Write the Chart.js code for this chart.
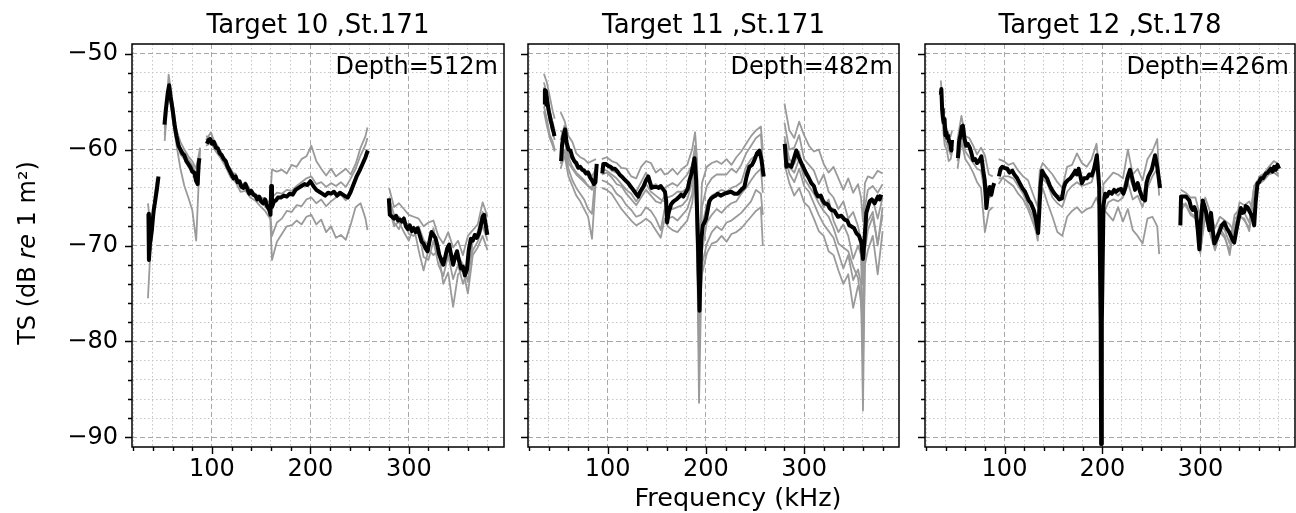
<!DOCTYPE html>
<html>
<head>
<meta charset="utf-8">
<script src="https://cdn.jsdelivr.net/npm/chart.js@4.4.0/dist/chart.umd.min.js"></script>
<style>
  html, body { margin: 0; padding: 0; background: #fff; }
  #wrap { position: relative; width: 1296px; height: 513px; overflow: hidden; }
  #wrap canvas { position: absolute; left: 0; top: 0; }
</style>
</head>
<body>
<div id="wrap">
  <canvas id="c10" width="1296" height="513"></canvas>
  <canvas id="c11" width="1296" height="513"></canvas>
  <canvas id="c12" width="1296" height="513"></canvas>
</div>
<script>
// axes
const xTicks = [20, 40, 60, 80, 100, 120, 140, 160, 180, 200, 220, 240, 260, 280, 300, 320, 340, 360, 380];
const xLabels = [100, 200, 300];
const yTicks = [-90, -88, -86, -84, -82, -80, -78, -76, -74, -72, -70, -68, -66, -64, -62, -60, -58, -56, -54, -52, -50];
const yLabels = [-90, -80, -70, -60, -50];

// Target 10 - mean (black)
const freqMean10 = [35.5, 36, 37, 38, 39, 40, 41, 42, 43, 44, 45, 45.7, null,
  51.8, 53, 55, 56.5, 58, 60, 62, 64, 66, 68, 70, 72, 74, 76, 78, 80, 82, 84, 85.5, 86.5, 87.3, null,
  94.9, 96.5, 98.3, 100, 102, 104, 106, 108, 110, 112, 114, 116, 118, 120, 122, 124, 126, 128, 130, 132, 134, 136, 138, 140, 142, 144, 146, 148, 150, 152, 154, 156, 158, 159.5, 160.2,
  161, 163, 165, 167, 170, 173, 176, 179, 182, 185, 188, 191, 194, 197, 200, 203, 206, 209, 212, 215, 218, 221, 224, 227, 230, 233, 236, 238, 241, 244, 247, 250, 253, 256, 258.3, null,
  279.7, 280.7, 283, 285, 287, 289, 291, 293, 295, 297, 299, 301, 303, 305, 307, 309, 311, 313, 315, 317, 319, 321, 323, 325, 327, 329, 331, 333, 335, 337, 339, 341, 343, 345, 347, 349, 351, 353, 355, 357, 359, 361, 363, 365, 367, 369, 371, 373, 375, 376.5, 378, 379.8];
const tsMean10 = [-66.7, -71.5, -69.8, -69.2, -68.4, -67.2, -66.2, -65.6, -64.9, -64.2, -63.4, -62.8, null,
  -57.4, -56.0, -54.2, -53.3, -54.5, -55.8, -57.4, -58.6, -59.6, -60.0, -60.4, -60.6, -61.2, -61.5, -61.8, -62.3, -62.4, -63.3, -63.6, -61.5, -60.9, null,
  -59.4, -59.0, -58.9, -59.4, -59.2, -59.8, -59.9, -60.4, -60.6, -61.0, -61.2, -61.8, -62.2, -62.6, -63.0, -62.8, -63.4, -63.3, -63.9, -64.0, -63.6, -64.1, -64.6, -64.3, -64.7, -64.8, -65.2, -64.9, -65.4, -65.6, -65.2, -65.9, -66.2, -66.8, -63.8,
  -66.0, -65.4, -65.3, -65.0, -65.0, -64.8, -64.9, -64.6, -64.7, -64.2, -64.0, -63.8, -63.6, -63.7, -63.3, -63.8, -64.2, -64.4, -64.6, -64.8, -64.5, -64.6, -64.4, -64.8, -64.5, -64.7, -64.9, -65.0, -64.4, -63.6, -62.8, -62.2, -61.5, -60.8, -60.1, null,
  -65.1, -66.8, -67.0, -67.2, -66.9, -67.4, -67.3, -67.5, -67.2, -68.0, -68.3, -67.9, -68.5, -68.2, -68.6, -68.2, -68.9, -69.6, -69.8, -70.3, -70.6, -69.6, -68.6, -68.9, -69.2, -70.0, -71.0, -71.5, -72.0, -71.2, -70.3, -69.9, -71.0, -72.0, -71.2, -70.6, -71.6, -72.4, -72.2, -73.1, -72.5, -70.4, -69.3, -69.5, -68.9, -69.2, -68.8, -68.0, -67.0, -66.8, -67.8, -68.9];

// Target 10 - single pings (grey)
const freqPing10 = [35, 38, 41, 44, null,
  52, 56, 60, 64, 68, 72, 76, 80, 84, 88, null,
  94, 99, 104, 109, 114, 119, 124, 129, 134, 139, 144, 149, 154, 159,
  161, 166, 171, 176, 181, 186, 191, 196, 201, 206, 211, 216, 221, 226, 231, 236, 241, 246, 251, 256, 258, null,
  280, 285, 290, 295, 300, 305, 310, 315, 320, 325, 330, 335, 340, 345, 350, 355, 360, 365, 370, 375, 380];
const tsPing10a = [-65.6, -68.5, -65.5, -63.0, null,
  -58.5, -52.2, -55.0, -58.0, -59.2, -60.0, -60.7, -61.2, -62.0, -59.8, null,
  -59.0, -58.2, -59.6, -60.4, -61.0, -62.4, -62.5, -63.8, -63.4, -64.2, -64.6, -65.0, -65.1, -65.6,
  -62.1, -62.3, -62.1, -62.5, -61.6, -61.8, -61.0, -60.7, -59.6, -61.2, -62.0, -62.7, -62.0, -62.8, -62.4, -62.0, -62.6, -61.5, -59.8, -58.6, -57.7, null,
  -64.0, -66.0, -65.6, -66.2, -66.8, -67.0, -67.2, -68.0, -67.6, -67.4, -69.0, -69.8, -68.6, -70.2, -69.5, -71.0, -69.0, -68.4, -67.8, -65.5, -67.0];
const tsPing10b = [-75.5, -69.5, -66.8, -63.8, null,
  -59.1, -53.5, -56.8, -59.5, -62.0, -63.8, -65.0, -66.3, -69.5, -60.0, null,
  -59.6, -59.3, -60.2, -60.9, -61.8, -62.9, -63.4, -64.4, -64.3, -65.0, -65.3, -65.9, -66.4, -67.2,
  -65.0, -64.5, -64.6, -64.2, -64.3, -63.8, -63.4, -63.0, -62.8, -63.6, -63.4, -63.9, -63.5, -63.8, -63.4, -63.9, -63.0, -62.0, -60.6, -59.5, -58.8, null,
  -65.5, -67.6, -68.3, -67.0, -68.8, -69.0, -68.4, -71.2, -71.5, -69.5, -72.0, -73.2, -71.0, -73.5, -72.0, -74.0, -72.5, -70.5, -69.6, -68.0, -69.5];
const tsPing10c = [-67.5, -70.5, -66.0, -64.0, null,
  -57.8, -53.8, -56.5, -58.6, -60.5, -61.0, -61.8, -62.2, -63.3, -61.2, null,
  -58.6, -58.8, -59.3, -60.2, -61.3, -62.0, -63.0, -63.6, -64.0, -64.4, -65.0, -65.2, -65.7, -66.3,
  -69.0, -67.6, -67.2, -66.4, -66.5, -65.8, -65.9, -65.2, -65.0, -65.6, -65.2, -65.9, -65.4, -65.0, -64.7, -65.3, -64.1, -63.0, -62.0, -61.0, -60.5, null,
  -66.0, -68.0, -67.5, -68.6, -69.5, -68.0, -70.5, -72.6, -70.4, -71.0, -70.5, -74.0, -72.8, -76.4, -73.0, -72.5, -75.0, -71.0, -70.2, -69.0, -70.5];
const tsPing10d = [-66.5, -69.5, -66.2, -63.5, null,
  -57.0, -53.0, -55.6, -58.2, -59.8, -60.4, -61.0, -61.6, -62.6, -61.0, null,
  -59.2, -59.0, -59.5, -60.6, -61.5, -62.2, -63.2, -63.9, -63.8, -64.6, -64.9, -65.5, -65.9, -66.6,
  -71.5, -69.6, -68.8, -68.0, -67.9, -67.4, -67.8, -67.0, -66.8, -67.8, -67.3, -68.6, -68.0, -69.2, -68.9, -69.4, -67.8, -66.0, -65.6, -67.2, -68.4, null,
  -65.0, -66.8, -67.0, -67.6, -67.8, -68.5, -68.0, -69.4, -70.0, -68.2, -70.8, -71.5, -70.2, -71.8, -71.0, -72.0, -73.8, -69.5, -68.6, -66.5, -68.0];

// Target 11 - mean (black)
const freqMean11 = [35.5, 36, 37, 38, 39, 40, 41, 42, 43, 44, 45, 45.7, null,
  52.5, 53.5, 55, 56.6, 58, 60, 62, 64, 66, 68, 70, 72, 74, 76, 78, 80, 82, 84, 86, 87.5, 88.8, null,
  94.5, 95.5, 98, 100.6, 103, 105, 107.4, 110, 112, 114.2, 117, 120.9, 123, 126, 128, 131.1, 133, 136.2, 139, 141.3, 143, 144.7, 147, 149.8, 152, 154, 156, 158.3,
  159.5, 160.5, 162, 164.6, 167, 170, 172, 174.8, 177, 179.9, 181.5, 183.3, 185, 186.7, 188.4, 190.1, 191.8, 193.5, 195.2, 196.9, 198.5, 200.2, 202, 203.5, 205.3, 208, 210, 212.1, 215, 218.9, 222, 225.7, 229, 232.5, 236, 239.2, 241.5, 244.3, 247, 249.4, 252, 254.5, 256.5, 258.9, null,
  280.3, 282, 284, 287, 289.5, 292.1, 294.5, 297.2, 300, 302.3, 305, 307.4, 310, 312, 314.2, 317, 319, 321, 324, 326, 327.8, 331, 334.5, 338, 341.3, 344, 346, 348.1, 351, 353.2, 356, 358.3, 360, 361.5, 363.4, 366.8, 369, 371.8, 375.2, 377, 378.6];
const tsMean11 = [-55.3, -53.8, -53.9, -54.6, -55.4, -56.0, -56.5, -57.0, -57.4, -57.9, -58.2, -58.6, null,
  -61.2, -59.5, -58.5, -57.9, -59.2, -60.0, -60.1, -60.8, -61.2, -61.4, -61.9, -61.8, -62.1, -62.2, -62.5, -62.4, -62.9, -63.2, -63.6, -63.4, -61.5, null,
  -62.5, -61.5, -61.5, -61.7, -61.8, -62.0, -62.0, -62.3, -62.6, -62.8, -63.1, -63.5, -63.8, -64.2, -64.5, -64.9, -64.4, -63.9, -63.2, -62.8, -63.4, -64.0, -63.9, -63.9, -64.0, -63.8, -64.1, -64.4,
  -65.3, -67.6, -66.6, -65.7, -65.4, -65.2, -65.0, -64.7, -64.9, -64.4, -64.1, -63.2, -62.6, -61.8, -60.9, -63.2, -69.2, -76.8, -69.5, -67.9, -67.6, -67.2, -66.2, -65.4, -65.1, -64.9, -64.8, -64.6, -64.8, -64.6, -64.5, -64.4, -64.6, -64.6, -64.2, -63.9, -62.8, -61.8, -61.6, -61.1, -60.4, -60.1, -61.0, -62.8, null,
  -59.4, -61.8, -61.6, -61.8, -61.0, -60.1, -60.8, -61.4, -62.0, -62.5, -63.0, -63.5, -63.8, -64.5, -64.9, -64.8, -65.3, -65.6, -65.7, -66.1, -66.3, -66.4, -67.0, -66.9, -67.3, -67.4, -67.9, -68.0, -68.2, -68.7, -69.0, -69.7, -71.4, -69.5, -66.6, -65.4, -65.2, -65.6, -64.9, -65.2, -64.7];

// Target 11 - single pings (grey)
const freqPing11 = [35, 38, 41, 44, 46, null,
  52, 56, 60, 64, 68, 72, 76, 80, 84, 88, null,
  94, 99, 104, 109, 114, 119, 124, 129, 134, 139, 144, 149, 154, 158,
  161, 166, 171, 176, 181, 186, 189, 191, 193, 196, 201, 206, 211, 216, 221, 226, 231, 236, 241, 246, 251, 256, 258, null,
  280, 285, 290, 295, 300, 305, 310, 315, 320, 325, 330, 335, 340, 345, 350, 355, 358, 360, 362, 365, 370, 375, 380];
const tsPing11a = [-52.1, -53.0, -54.5, -56.0, -56.8, null,
  -56.1, -57.0, -58.6, -59.2, -60.4, -60.8, -61.0, -61.4, -61.2, -61.0, null,
  -61.0, -60.8, -61.2, -61.4, -61.9, -62.0, -62.8, -63.0, -61.8, -61.2, -61.4, -62.4, -62.0, -62.6,
  -62.5, -62.0, -62.6, -62.0, -61.6, -60.0, -58.2, -61.0, -72.0, -63.5, -61.8, -61.4, -61.2, -61.5, -61.0, -61.6, -60.8, -60.2, -59.4, -58.6, -58.0, -57.6, -60.0, null,
  -55.2, -58.0, -58.8, -57.1, -58.5, -59.6, -60.2, -60.0, -61.5, -62.4, -61.8, -63.0, -64.2, -63.0, -64.5, -63.6, -65.0, -67.5, -63.5, -62.8, -63.0, -62.2, -62.5];
const tsPing11b = [-53.0, -54.2, -56.0, -57.2, -58.0, null,
  -59.0, -57.5, -60.6, -61.0, -61.8, -62.0, -62.4, -62.2, -62.8, -62.0, null,
  -61.8, -61.6, -62.2, -62.4, -62.8, -63.2, -63.8, -64.4, -63.4, -62.4, -63.8, -63.6, -64.0, -64.0,
  -63.8, -63.5, -63.8, -63.2, -62.6, -61.6, -59.6, -65.0, -78.0, -66.0, -63.8, -63.0, -62.6, -62.6, -62.6, -62.0, -62.4, -61.6, -60.4, -59.6, -58.8, -58.4, -61.5, null,
  -57.2, -60.0, -59.8, -58.5, -61.0, -61.6, -62.2, -63.6, -62.6, -64.4, -65.0, -66.2, -65.4, -67.2, -66.5, -68.0, -69.5, -74.0, -66.0, -64.2, -63.8, -64.5, -63.6];
const tsPing11c = [-54.5, -55.5, -57.0, -58.2, -59.0, null,
  -60.5, -59.0, -61.4, -62.0, -62.6, -63.0, -63.4, -63.8, -64.2, -62.5, null,
  -62.6, -62.4, -62.9, -63.6, -63.8, -64.6, -65.2, -65.8, -65.0, -64.2, -64.8, -65.4, -65.6, -64.8,
  -65.0, -64.8, -64.4, -64.4, -64.0, -62.4, -60.4, -67.0, -82.0, -68.0, -65.8, -64.8, -64.5, -64.2, -64.4, -64.0, -63.8, -63.4, -61.8, -61.0, -60.6, -60.0, -62.8, null,
  -58.6, -61.0, -61.5, -60.2, -62.5, -63.0, -63.8, -64.8, -66.0, -65.2, -67.4, -68.6, -67.8, -69.0, -71.4, -70.0, -71.0, -80.0, -67.8, -66.0, -65.2, -67.2, -65.0];
const tsPing11d = [-55.5, -56.8, -58.5, -59.2, -60.0, null,
  -61.5, -60.0, -62.0, -63.2, -64.0, -64.6, -65.2, -66.2, -66.7, -62.0, null,
  -63.2, -63.4, -63.8, -64.6, -65.0, -65.8, -66.3, -67.0, -66.8, -66.0, -66.4, -67.2, -68.4, -66.2,
  -66.2, -66.2, -66.0, -65.8, -65.2, -63.4, -61.2, -69.0, -86.4, -70.6, -67.6, -66.8, -66.2, -66.6, -66.0, -65.6, -65.4, -64.6, -64.0, -63.2, -62.5, -62.0, -64.5, null,
  -60.2, -62.5, -63.4, -62.0, -63.8, -64.4, -65.6, -66.8, -67.8, -68.5, -69.2, -70.8, -72.4, -71.0, -73.6, -72.5, -74.0, -87.2, -70.5, -68.4, -67.0, -69.8, -66.8];
const tsPing11e = [-56.0, -57.5, -58.8, -59.6, -60.2, null,
  -62.0, -60.6, -62.8, -63.8, -64.8, -65.4, -66.2, -67.0, -69.3, -63.0, null,
  -64.0, -64.2, -64.6, -65.4, -66.2, -66.8, -67.4, -67.9, -67.6, -67.2, -67.6, -68.4, -69.2, -67.2,
  -67.2, -67.0, -67.4, -66.8, -66.2, -64.6, -62.0, -70.0, -80.0, -72.0, -69.8, -68.6, -68.0, -68.4, -67.6, -67.4, -67.0, -66.6, -66.0, -65.4, -64.2, -64.6, -66.8, null,
  -61.5, -63.5, -64.8, -64.0, -65.5, -66.0, -67.2, -68.5, -69.0, -70.6, -71.0, -72.6, -74.0, -73.0, -76.5, -74.2, -75.0, -82.0, -72.0, -70.5, -69.0, -73.0, -68.5];
const tsPing11f = [-53.5, -55.0, -56.8, -57.6, -58.5, null,
  -58.0, -58.5, -60.8, -61.8, -62.4, -62.8, -63.2, -63.8, -64.0, -61.8, null,
  -62.0, -62.2, -62.6, -63.0, -63.6, -64.2, -64.6, -65.4, -64.6, -63.6, -64.4, -64.8, -65.2, -65.4,
  -68.0, -68.4, -68.6, -68.0, -67.4, -65.6, -63.0, -71.5, -76.0, -73.0, -70.8, -69.8, -69.6, -69.0, -69.6, -68.8, -68.6, -68.2, -67.6, -67.0, -66.4, -66.0, -70.0, null,
  -59.0, -61.8, -62.4, -61.0, -63.0, -63.8, -64.6, -65.6, -66.4, -67.0, -68.2, -69.8, -70.2, -70.6, -72.2, -73.4, -76.0, -78.0, -69.0, -67.5, -66.5, -70.0, -66.0];

// Target 12 - mean (black)
const freqMean12 = [35, 35.5, 36.3, 37, 37.9, 38.8, 39.6, 40.5, 41.5, 42.5, 43.5, 44.5, 45.7, 46.4, null,
  52.4, 53.5, 55, 56.5, 57.5, 59, 60.8, 62.5, 64.5, 66, 68, 70, 72, 73, 75, 76.4, 78, 79.8, 81.5, 83, 84.9, 86.6, 88, 89.4, null,
  94.3, 96, 97.7, 100, 102.8, 105, 107.9, 110, 113, 115.5, 118.1, 121, 124.8, 127, 129.9, 132, 134.3, 135.5, 136.7, 138.4,
  140.5, 143.4, 146, 148.5, 151, 153.6, 156, 158.7, 160.5, 162.1, 164.5, 167.2, 170, 172.3, 174, 175.7, 177.5, 179, 181.5, 184.1,
  186.5, 189.2, 191.5, 194.3, 196.7, 198.2, 198.7, 199.4, 201.1, 202.8, 204.5, 207, 209.6, 212, 214, 216.3, 219, 221.4, 223.5, 225.5,
  228.2, 230.5, 233.3, 236, 238.5, 241, 243.6, 245, 247, 250.4, 252, 253.8, 256, 258.9, null,
  279.6, 280.3, 282.5, 285.4, 287, 288.8, 290.5, 292.2, 294, 295.6, 297.5, 299, 300.5, 302.4, 304, 305.8, 307.5, 309.2, 310.9, 312.5,
  314.3, 317, 319.4, 322, 324.5, 327, 329.5, 332, 334.6, 336.5, 338, 340, 341.4, 343, 344.8, 346.5, 348.2, 350, 351.6, 353.5,
  355, 356.5, 358.4, 360, 361.8, 364, 366.9, 369, 372, 373.8, 375.4, 377, 378.8, 380.5];
const tsMean12 = [-54.3, -53.7, -55.8, -56.6, -57.2, -56.8, -58.5, -58.2, -58.8, -58.6, -59.2, -59.3, -60.1, -59.0, null,
  -60.9, -59.2, -58.5, -57.6, -57.5, -58.8, -59.6, -59.4, -59.8, -60.3, -61.1, -61.0, -61.4, -61.3, -61.0, -60.7, -62.0, -63.2, -66.1, -64.6, -63.9, -64.7, -64.0, -63.5, null,
  -62.8, -62.0, -61.8, -61.9, -62.0, -62.4, -62.2, -62.6, -63.0, -63.5, -64.0, -64.4, -65.3, -65.6, -66.3, -67.2, -68.7, -66.5, -63.9, -62.2,
  -62.6, -63.0, -63.7, -64.2, -64.6, -64.9, -65.2, -65.1, -64.0, -63.5, -63.2, -63.0, -62.6, -62.2, -62.6, -62.0, -62.8, -63.5, -63.0, -63.0,
  -62.6, -62.7, -62.0, -60.6, -63.9, -78.0, -90.7, -78.0, -65.8, -64.6, -64.9, -64.4, -64.6, -64.2, -64.4, -64.2, -64.1, -64.6, -64.0, -63.0,
  -62.1, -63.0, -64.2, -63.5, -64.4, -65.1, -65.3, -63.5, -62.8, -62.1, -61.4, -60.6, -61.8, -64.0, null,
  -67.9, -64.9, -64.9, -64.9, -65.1, -65.3, -66.0, -66.3, -66.0, -66.5, -68.5, -70.4, -67.5, -65.3, -65.8, -66.5, -67.5, -68.4, -66.6, -68.2,
  -69.8, -69.2, -68.6, -67.9, -67.6, -68.2, -68.6, -69.2, -69.7, -68.6, -67.8, -66.8, -66.1, -66.6, -66.5, -65.9, -66.0, -66.4, -66.7, -67.2,
  -67.9, -65.5, -63.5, -63.4, -63.0, -63.0, -62.5, -62.4, -62.0, -62.3, -61.8, -62.1, -61.6, -62.0];

// Target 12 - single pings (grey)
const freqPing12 = [35, 37, 39, 41, 43, 45, 46.5, null,
  52, 56, 60, 64, 68, 72, 76, 80, 84, 88, null,
  94, 99, 104, 109, 114, 119, 124, 129, 134, 136, 139, 144, 149, 154, 159, 164, 169, 174, 179, 184,
  189, 194, 197, 198.7, 201, 206, 211, 216, 221, 226, 231, 236, 241, 246, 251, 256, 258, null,
  280, 285, 290, 295, 300, 305, 310, 315, 320, 325, 330, 335, 340, 345, 350, 355, 360, 365, 370, 375, 380];
const tsPing12a = [-52.8, -55.8, -57.2, -57.8, -58.4, -58.6, -58.0, null,
  -59.0, -56.5, -58.6, -58.8, -59.6, -60.5, -59.8, -60.6, -62.6, -62.8, null,
  -61.0, -61.2, -61.6, -61.4, -62.2, -62.8, -63.2, -64.6, -66.0, -62.2, -61.4, -62.0, -62.6, -63.4, -64.0, -61.8, -61.6, -60.4, -61.4, -61.8,
  -61.0, -59.4, -62.5, -85.0, -63.6, -63.0, -62.4, -62.6, -63.0, -60.0, -62.6, -62.0, -63.2, -61.0, -60.2, -58.9, -63.0, null,
  -64.2, -64.5, -65.0, -65.0, -67.0, -65.0, -66.5, -68.2, -67.0, -67.4, -67.8, -68.6, -65.5, -65.8, -65.4, -66.6, -62.8, -62.5, -61.8, -61.2, -61.5];
const tsPing12b = [-54.5, -57.0, -58.8, -59.4, -60.0, -60.5, -59.5, null,
  -61.2, -58.4, -60.2, -60.8, -61.4, -62.0, -62.2, -64.6, -65.0, -64.8, null,
  -63.6, -62.8, -62.8, -63.0, -63.8, -64.6, -65.8, -67.0, -69.5, -65.0, -63.0, -63.6, -65.0, -65.6, -66.0, -64.4, -63.8, -63.4, -63.8, -63.6,
  -63.4, -61.6, -64.8, -88.0, -66.8, -65.5, -65.2, -65.4, -65.0, -63.4, -65.2, -64.8, -66.0, -64.0, -62.8, -62.0, -64.8, null,
  -65.6, -65.8, -66.8, -67.2, -70.8, -66.2, -68.8, -70.5, -68.6, -69.2, -70.6, -67.8, -67.0, -67.2, -68.5, -64.4, -63.6, -63.2, -62.6, -62.4, -62.8];
const tsPing12c = [-55.2, -57.6, -59.6, -60.0, -61.2, -61.0, -60.2, null,
  -62.0, -59.2, -61.0, -61.6, -62.4, -63.4, -64.0, -68.6, -66.4, -66.0, null,
  -63.0, -63.0, -63.4, -63.8, -64.6, -65.2, -66.2, -67.6, -69.0, -65.6, -64.0, -65.6, -67.0, -68.6, -69.0, -67.0, -66.4, -66.0, -66.6, -66.2,
  -66.0, -65.0, -66.0, -86.0, -66.2, -66.8, -67.4, -66.0, -67.5, -66.2, -68.4, -69.0, -69.8, -67.2, -67.0, -68.0, -70.9, null,
  -66.4, -65.6, -66.6, -67.0, -70.6, -67.0, -68.6, -70.4, -68.2, -69.0, -71.0, -67.2, -66.8, -67.4, -68.2, -63.8, -63.2, -62.8, -62.4, -62.0, -62.6];
const tsPing12d = [-53.8, -56.4, -58.0, -58.6, -59.4, -59.8, -59.2, null,
  -60.4, -57.6, -59.4, -59.6, -60.8, -61.4, -61.2, -63.4, -64.2, -63.8, null,
  -62.4, -62.0, -62.2, -62.4, -63.4, -64.2, -65.0, -66.4, -67.8, -63.0, -62.6, -63.0, -64.2, -64.8, -64.8, -63.2, -62.8, -62.6, -62.8, -63.0,
  -62.8, -60.8, -64.0, -89.0, -65.6, -64.6, -64.4, -64.8, -64.2, -62.4, -63.8, -63.6, -64.8, -63.0, -61.8, -61.0, -64.0, null,
  -65.0, -64.8, -65.8, -66.2, -69.4, -65.8, -67.6, -69.6, -67.8, -68.4, -69.8, -66.8, -66.2, -66.6, -67.6, -63.8, -63.0, -62.6, -62.2, -61.8, -62.2];

const FONT = "'DejaVu Sans', sans-serif";
const TICK_SIZE = 24;
const TITLE_SIZE = 26;

const panels = [
  { id: 'c10', title: 'Target 10 ,St.171', depth: 'Depth=512m', left: 132, right: 504, yWidth: 132, showY: true,
    freqMean: freqMean10, tsMean: tsMean10, freqPing: freqPing10, pings: [tsPing10a, tsPing10b, tsPing10c, tsPing10d] },
  { id: 'c11', title: 'Target 11 ,St.171', depth: 'Depth=482m', left: 528, right: 899, yWidth: 10, showY: false,
    freqMean: freqMean11, tsMean: tsMean11, freqPing: freqPing11, pings: [tsPing11a, tsPing11b, tsPing11c, tsPing11d, tsPing11e, tsPing11f] },
  { id: 'c12', title: 'Target 12 ,St.178', depth: 'Depth=426m', left: 925, right: 1295, yWidth: 10, showY: false,
    freqMean: freqMean12, tsMean: tsMean12, freqPing: freqPing12, pings: [tsPing12a, tsPing12b, tsPing12c, tsPing12d] }
];

// null in the frequency list = gap between transducer bands
function toPoints(freqs, vals) {
  return freqs.map((f, i) => ({ x: f === null ? freqs[i - 1] : f, y: f === null ? null : vals[i] }));
}

const isMajorX = v => v % 100 === 0;
const isMajorY = v => v % 10 === 0;

// frame, tick marks and the texts
const panelDecor = {
  id: 'panelDecor',
  afterDatasetsDraw(chart, args, opts) {
    const { ctx, chartArea: a } = chart;
    const xs = chart.scales.x, ys = chart.scales.y;
    ctx.save();
    ctx.strokeStyle = '#000';
    ctx.lineWidth = 1.5;
    ctx.strokeRect(a.left, a.top, a.right - a.left, a.bottom - a.top);
    ctx.lineWidth = 1.4;
    ctx.beginPath();
    xs.ticks.forEach(t => {
      const px = Math.round(xs.getPixelForValue(t.value)) + 0.5;
      ctx.moveTo(px, a.bottom);
      ctx.lineTo(px, a.bottom + (isMajorX(t.value) ? 7 : 4));
    });
    ys.ticks.forEach(t => {
      const py = Math.round(ys.getPixelForValue(t.value)) + 0.5;
      ctx.moveTo(a.left, py);
      ctx.lineTo(a.left - (isMajorY(t.value) ? 7 : 4), py);
    });
    ctx.stroke();

    ctx.fillStyle = '#000';
    ctx.textBaseline = 'alphabetic';
    ctx.textAlign = 'center';
    ctx.font = TITLE_SIZE + 'px ' + FONT;
    ctx.fillText(opts.title, (a.left + a.right) / 2, 33);
    ctx.textAlign = 'right';
    ctx.font = TICK_SIZE + 'px ' + FONT;
    ctx.fillText(opts.depth, a.right - 6, 74);

    if (opts.axisTitles) {
      ctx.textAlign = 'center';
      ctx.font = '25.5px ' + FONT;
      ctx.fillText('Frequency (kHz)', 738, 506);
      // y title with italic "re"
      const parts = [['TS (dB ', ''], ['re', 'italic '], [' 1 m²)', '']];
      let total = 0;
      parts.forEach(p => { ctx.font = p[1] + TICK_SIZE + 'px ' + FONT; total += ctx.measureText(p[0]).width; });
      ctx.translate(35, 253);
      ctx.rotate(-Math.PI / 2);
      ctx.textAlign = 'left';
      let x = -total / 2;
      parts.forEach(p => {
        ctx.font = p[1] + TICK_SIZE + 'px ' + FONT;
        ctx.fillText(p[0], x, 0);
        x += ctx.measureText(p[0]).width;
      });
    }
    ctx.restore();
  }
};

panels.forEach((p, idx) => {
  const datasets = [{
    data: toPoints(p.freqMean, p.tsMean),
    borderColor: '#000000', borderWidth: 4, order: 0
  }];
  p.pings.forEach(vals => datasets.push({
    data: toPoints(p.freqPing, vals),
    borderColor: '#9a9a9a', borderWidth: 1.8, order: 1
  }));

  new Chart(document.getElementById(p.id), {
    type: 'line',
    data: { datasets: datasets },
    options: {
      responsive: false,
      animation: false,
      events: [],
      layout: { padding: { left: p.left - p.yWidth, right: 1296 - p.right, top: 44, bottom: 0 } },
      elements: { point: { radius: 0 }, line: { tension: 0, borderJoinStyle: 'round', fill: false } },
      plugins: {
        legend: { display: false },
        tooltip: { enabled: false },
        panelDecor: { title: p.title, depth: p.depth, axisTitles: idx === 0 }
      },
      scales: {
        x: {
          type: 'linear', min: 18.8, max: 396.7,
          afterFit: s => { s.height = 66; },
          afterBuildTicks: s => { s.ticks = xTicks.map(v => ({ value: v })); },
          ticks: {
            autoSkip: false, maxRotation: 0, padding: 11, color: '#000',
            font: { family: FONT, size: TICK_SIZE, lineHeight: 1 },
            callback: v => xLabels.includes(v) ? String(v) : ''
          },
          grid: { drawTicks: false, lineWidth: 1, color: c => (c.tick && isMajorX(c.tick.value)) ? '#a8a8a8' : '#c4c4c4' },
          border: { display: false, dash: c => (c.tick && isMajorX(c.tick.value)) ? [5, 3] : [1.5, 2.5] }
        },
        y: {
          type: 'linear', min: -91, max: -49,
          afterFit: s => { s.width = p.yWidth; },
          afterBuildTicks: s => { s.ticks = yTicks.map(v => ({ value: v })); },
          ticks: {
            display: p.showY, autoSkip: false, padding: 14, color: '#000',
            font: { family: FONT, size: TICK_SIZE, lineHeight: 1 },
            callback: v => yLabels.includes(v) ? '\u2212' + Math.abs(v) : ''
          },
          grid: { drawTicks: false, lineWidth: 1, color: c => (c.tick && isMajorY(c.tick.value)) ? '#a8a8a8' : '#c4c4c4' },
          border: { display: false, dash: c => (c.tick && isMajorY(c.tick.value)) ? [5, 3] : [1.5, 2.5] }
        }
      }
    },
    plugins: [panelDecor]
  });
});
</script>
</body>
</html>
